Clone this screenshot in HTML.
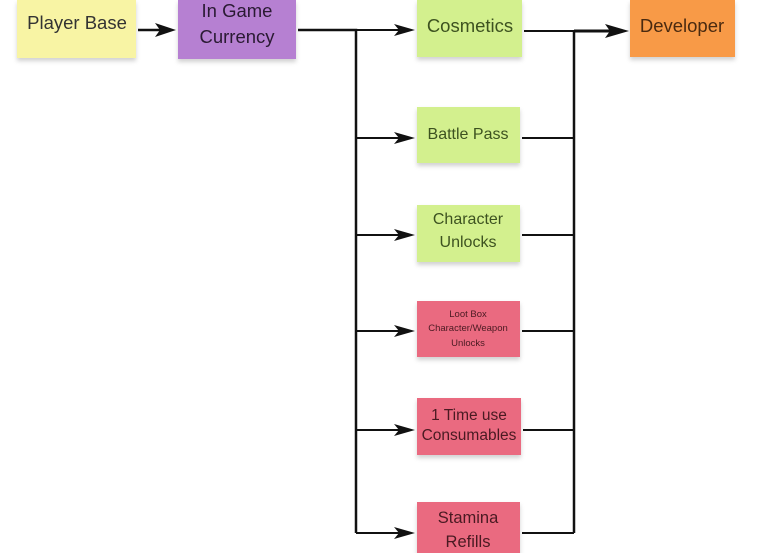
<!DOCTYPE html>
<html><head><style>
html,body{margin:0;padding:0;background:#fff;width:763px;height:553px;overflow:hidden}
svg{display:block}
text{font-family:"Liberation Sans",sans-serif;text-anchor:middle}
</style></head><body>
<svg width="763" height="553" viewBox="0 0 763 553">
<defs>
<filter id="s" x="-10%" y="-10%" width="120%" height="130%"><feDropShadow dx="0" dy="3" stdDeviation="2" flood-opacity="0.18"/></filter>
</defs>
<g filter="url(#s)">
<rect x="17" y="0" width="119" height="58" fill="#f8f4a4"/>
<rect x="178" y="0" width="118" height="59" fill="#b680d2"/>
<rect x="417" y="0" width="105" height="57" fill="#d3f08e"/>
<rect x="630" y="0" width="105" height="57" fill="#f89a46"/>
<rect x="417" y="107" width="103" height="56" fill="#d3f08e"/>
<rect x="417" y="205" width="103" height="57" fill="#d3f08e"/>
<rect x="417" y="301" width="103" height="56" fill="#ea6a80"/>
<rect x="417" y="398" width="104" height="57" fill="#ea6a80"/>
<rect x="417" y="502" width="103" height="56" fill="#ea6a80"/>
</g>
<g stroke="#111" stroke-width="2.5" fill="none">
<line x1="138" y1="30" x2="165" y2="30"/>
<polyline points="298,30 356,30 356,533"/>
<line x1="356" y1="30" x2="400" y2="30" stroke-width="2"/>
<line x1="356" y1="138" x2="400" y2="138" stroke-width="2"/>
<line x1="356" y1="235" x2="400" y2="235" stroke-width="2"/>
<line x1="356" y1="331" x2="400" y2="331" stroke-width="2"/>
<line x1="356" y1="430" x2="400" y2="430" stroke-width="2"/>
<line x1="356" y1="533" x2="400" y2="533" stroke-width="2"/>
<line x1="574" y1="31" x2="574" y2="533"/>
<line x1="524" y1="31" x2="574" y2="31" stroke-width="2"/>
<line x1="522" y1="138" x2="574" y2="138" stroke-width="2"/>
<line x1="522" y1="235" x2="574" y2="235" stroke-width="2"/>
<line x1="522" y1="331" x2="574" y2="331" stroke-width="2"/>
<line x1="523" y1="430" x2="574" y2="430" stroke-width="2"/>
<line x1="522" y1="533" x2="574" y2="533" stroke-width="2"/>
<line x1="574" y1="31" x2="612" y2="31" stroke-width="3"/>
</g>
<g fill="#111">
<polygon points="176,30 155,23 160,30 155,37"/>
<polygon points="415,30 394,24 399,30 394,36"/>
<polygon points="415,138 394,132 399,138 394,144"/>
<polygon points="415,235 394,229 399,235 394,241"/>
<polygon points="415,331 394,325 399,331 394,337"/>
<polygon points="415,430 394,424 399,430 394,436"/>
<polygon points="415,533 394,527 399,533 394,539"/>
<polygon points="629,31 605,24 610,31 605,38"/>
</g>
<g font-size="18.5" fill="#333">
<text x="77" y="29">Player Base</text>
<text x="237" y="17" fill="#2a1a33">In Game</text>
<text x="237" y="43" fill="#2a1a33">Currency</text>
<text x="470" y="32" fill="#3d5220">Cosmetics</text>
<text x="682" y="32" fill="#4a2a10">Developer</text>
</g>
<g font-size="16" fill="#3d5220">
<text x="468" y="139">Battle Pass</text>
<text x="468" y="224">Character</text>
<text x="468" y="247">Unlocks</text>
</g>
<g fill="#4a1a22">
<text x="468" y="317" font-size="9.5">Loot Box</text>
<text x="468" y="331" font-size="9.5">Character/Weapon</text>
<text x="468" y="346" font-size="9.5">Unlocks</text>
<text x="469" y="420" font-size="15.5">1 Time use</text>
<text x="469" y="440" font-size="15.5">Consumables</text>
<text x="468" y="523" font-size="16.5">Stamina</text>
<text x="468" y="547" font-size="16.5">Refills</text>
</g>
</svg>
</body></html>
